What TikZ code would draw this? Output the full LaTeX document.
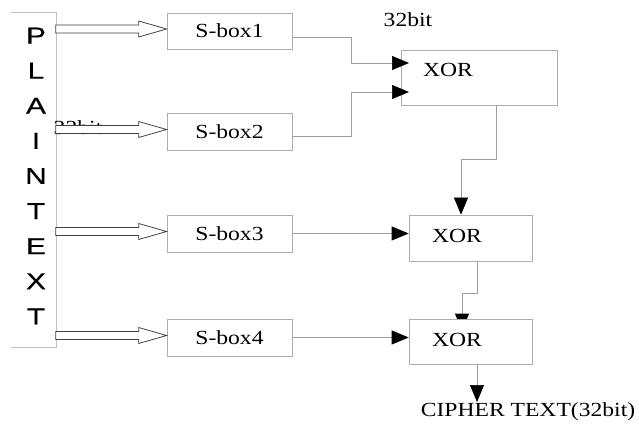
\documentclass[tikz,border=0pt]{standalone}
\usepackage{fontspec}
\setmainfont{Liberation Serif}[FakeStretch=1.18]
\newfontfamily\ptfont{Liberation Sans}[FakeStretch=1.3,FakeBold=0.6]
\usetikzlibrary{arrows.meta,calc}
\pgfdeclarelayer{background}
\pgfsetlayers{background,main}
\begin{document}
\begin{tikzpicture}[x=1pt,y=-1pt,
  box/.style={draw=black!32,line width=0.7pt,fill=white,inner sep=0pt},
  lbl/.style={font=\fontsize{20}{24}\selectfont,inner sep=0pt},
  conn/.style={draw=black!38,line width=0.7pt,-{Triangle[length=17pt,width=14pt,black]}},
  harrow/.style={draw=black!75,line width=0.8pt,fill=white}]
\useasboundingbox (0,0) rectangle (639,430);
% plaintext frame
\node[inner sep=0pt,minimum width=45pt,minimum height=334pt] (pt) at (33.5,180) {};
\draw[black!25,line width=0.7pt] (pt.north west) -- (pt.north east) -- (pt.south east) -- (pt.south west);
\node[inner sep=0pt,align=center,font=\ptfont\fontsize{23}{35.1}\selectfont] (ptt) at (36,176) {P\\L\\A\\I\\N\\T\\E\\X\\T};
% s-boxes
\node[box,minimum width=125pt,minimum height=36pt,lbl] (sb1) at (229.5,31) {S-box1};
\node[box,minimum width=125pt,minimum height=37pt,lbl] (sb2) at (229.5,131.5) {S-box2};
\node[box,minimum width=125pt,minimum height=37pt,lbl] (sb3) at (229.5,233.5) {S-box3};
\node[box,minimum width=125pt,minimum height=37pt,lbl] (sb4) at (229.5,337.5) {S-box4};
% hidden label
\node[lbl] (hid) at (78,128) {32bit};
% hollow arrows
\foreach \i in {1,...,4}{
  \draw[harrow] ([yshift=2pt]sb\i.west) -- ++(-28,-8) -- ++(0,4) -- ++(-83,0) -- ++(0,8) -- ++(83,0) -- ++(0,4) -- cycle;
}
% XOR boxes
\node[box,minimum width=156pt,minimum height=55pt] (x1) at (479,77.5) {};
\node[lbl] (x1t) at (448,70) {XOR};
\node[box,minimum width=123pt,minimum height=46pt] (x2) at (470.5,238) {};
\node[lbl] (x2t) at (457,236) {XOR};
\node[box,minimum width=123pt,minimum height=45pt] (x3) at (470.5,341.5) {};
\node[lbl] (x3t) at (457,340) {XOR};
\node[lbl] (b32) at (408,20) {32bit};
\node[lbl] (ct) at (528,412) {CIPHER TEXT(32bit)};
\coordinate (in1) at (409,63);
\coordinate (in2) at (409,92);
\coordinate (out) at (477,402);
% connectors
\draw[conn] ([yshift=-6pt]sb1.east) -| (351,63) -- (in1);
\draw[conn] ([yshift=-5pt]sb2.east) -| (351,92) -- (in2);
\draw[conn] ([xshift=17pt]x1.south) |- ([xshift=-9.5pt,yshift=55pt]x2.north) -- ([xshift=-9.5pt]x2.north);
\draw[conn] (sb3.east) -- (x2.west |- sb3.east);
\begin{pgfonlayer}{background}
\draw[conn] ([xshift=6.5pt]x2.south) |- ([xshift=-8.5pt,yshift=25pt]x3.north) -- ([xshift=-8.5pt,yshift=-12pt]x3.north);
\end{pgfonlayer}
\draw[conn] (sb4.east) -- (x3.west |- sb4.east);
\draw[conn] ([xshift=6.5pt]x3.south) -- (out);
\end{tikzpicture}
\end{document}
